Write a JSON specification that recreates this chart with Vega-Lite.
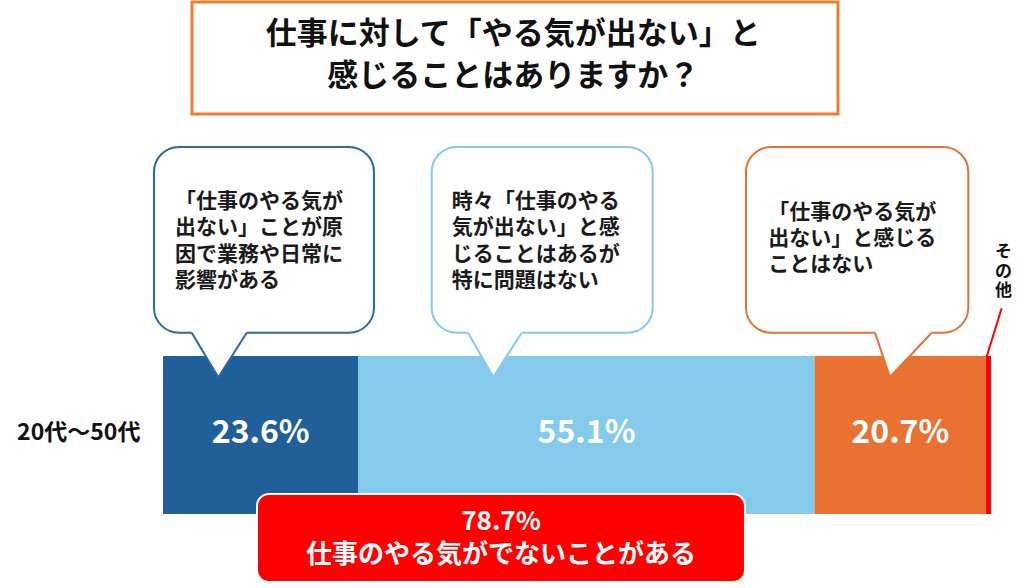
{
  "$schema": "https://vega.github.io/schema/vega-lite/v6.json",
  "description": "仕事に対して「やる気が出ない」と感じることはありますか？ (20代～50代)",
  "width": 1024,
  "height": 588,
  "autosize": {"type": "fit", "contains": "padding"},
  "padding": 0,
  "background": "white",
  "config": {"view": {"stroke": null}, "text": {"font": "Noto Sans CJK JP"}},
  "datasets": {
    "bar": [
      {"cat": "影響がある", "pct": 23.6, "label": "23.6%", "i": 1},
      {"cat": "特に問題はない", "pct": 55.1, "label": "55.1%", "i": 2},
      {"cat": "感じることはない", "pct": 20.7, "label": "20.7%", "i": 3},
      {"cat": "その他", "pct": 0.6, "label": "", "i": 4}
    ],
    "titlebox": [{"x1": 3.5, "x2": 81.52, "y1": 99.66, "y2": 80.61}],
    "title": [
      {"t": "仕事に対して「やる気が出ない」と", "x": 42.3, "y": 94.05},
      {"t": "感じることはありますか？", "x": 42.3, "y": 86.82}
    ],
    "bubbles": [
      {"b": "b1", "x1": -1.09, "x2": 25.48, "y1": 75.0, "y2": 43.42},
      {"b": "b2", "x1": 32.45, "x2": 59.14, "y1": 75.0, "y2": 43.42},
      {"b": "b3", "x1": 70.41, "x2": 97.26, "y1": 75.0, "y2": 43.42}
    ],
    "tails": [
      {"b": "b1", "x": 3.47, "y": 43.42, "ya": 43.2, "yb": 43.9},
      {"b": "b1", "x": 6.68, "y": 35.83, "ya": 35.83, "yb": 43.9},
      {"b": "b1", "x": 10.11, "y": 43.42, "ya": 43.2, "yb": 43.9},
      {"b": "b2", "x": 36.84, "y": 43.42, "ya": 43.2, "yb": 43.9},
      {"b": "b2", "x": 39.89, "y": 35.88, "ya": 35.88, "yb": 43.9},
      {"b": "b2", "x": 43.32, "y": 43.42, "ya": 43.2, "yb": 43.9},
      {"b": "b3", "x": 85.99, "y": 43.42, "ya": 43.2, "yb": 43.9},
      {"b": "b3", "x": 87.8, "y": 35.88, "ya": 35.88, "yb": 43.9},
      {"b": "b3", "x": 92.84, "y": 43.42, "ya": 43.2, "yb": 43.9}
    ],
    "btext": [
      {"t": "「仕事のやる気が", "x": 1.45, "y": 65.65},
      {"t": "出ない」ことが原", "x": 1.45, "y": 61.17},
      {"t": "因で業務や日常に", "x": 1.45, "y": 56.7},
      {"t": "影響がある", "x": 1.45, "y": 52.23},
      {"t": "時々「仕事のやる", "x": 34.87, "y": 65.65},
      {"t": "気が出ない」と感", "x": 34.87, "y": 61.17},
      {"t": "じることはあるが", "x": 34.87, "y": 56.7},
      {"t": "特に問題はない", "x": 34.87, "y": 52.23},
      {"t": "「仕事のやる気が", "x": 73.1, "y": 63.86},
      {"t": "出ない」と感じる", "x": 73.1, "y": 59.35},
      {"t": "ことはない", "x": 73.1, "y": 54.93}
    ],
    "redbox": [{"x1": 11.35, "x2": 70.29, "y1": 15.99, "y2": 1.02}],
    "redtext": [
      {"t": "78.7%", "x": 40.82, "y": 11.22},
      {"t": "仕事のやる気がでないことがある", "x": 40.82, "y": 5.61}
    ],
    "ylabel": [{"t": "20代～50代", "x": -10.18, "y": 26.3}],
    "other": [
      {"t": "そ", "x": 101.5, "y": 57.1},
      {"t": "の", "x": 101.5, "y": 53.8},
      {"t": "他", "x": 101.5, "y": 50.5}
    ],
    "leader": [{"x": 101.29, "y": 47.57, "x2": 99.48, "y2": 39.34}]
  },
  "layer": [
    {
      "data": {"name": "titlebox"},
      "mark": {"type": "rect", "fill": "white", "stroke": "#ED7D31", "strokeWidth": 3},
      "encoding": {
        "x": {"field": "x1", "type": "quantitative", "scale": {"domain": [-19.69, 103.99], "nice": false, "zero": false}, "axis": null},
        "x2": {"field": "x2"},
        "y": {"field": "y1", "type": "quantitative", "scale": {"domain": [0, 100], "nice": false, "zero": false}, "axis": null},
        "y2": {"field": "y2"}
      }
    },
    {
      "data": {"name": "title"},
      "mark": {"type": "text", "fontSize": 31, "fontWeight": "bold", "color": "#111111", "align": "center", "baseline": "middle"},
      "encoding": {
        "x": {"field": "x", "type": "quantitative", "scale": {"domain": [-19.69, 103.99], "nice": false, "zero": false}, "axis": null},
        "y": {"field": "y", "type": "quantitative", "scale": {"domain": [0, 100], "nice": false, "zero": false}, "axis": null},
        "text": {"field": "t"}
      }
    },
    {
      "data": {"name": "bar"},
      "transform": [
        {"stack": "pct", "groupby": [], "sort": [{"field": "i"}], "as": ["s", "e"]}
      ],
      "mark": {"type": "rect"},
      "encoding": {
        "x": {"field": "s", "type": "quantitative", "scale": {"domain": [-19.69, 103.99], "nice": false, "zero": false}, "axis": null},
        "x2": {"field": "e"},
        "y": {"datum": 39.46, "type": "quantitative", "scale": {"domain": [0, 100], "nice": false, "zero": false}, "axis": null},
        "y2": {"datum": 12.59},
        "color": {
          "field": "cat",
          "type": "nominal",
          "scale": {
            "domain": ["影響がある", "特に問題はない", "感じることはない", "その他"],
            "range": ["#215F9A", "#83CAEB", "#E97132", "#FF0000"]
          },
          "legend": null
        }
      }
    },
    {
      "data": {"name": "bar"},
      "transform": [
        {"stack": "pct", "groupby": [], "sort": [{"field": "i"}], "as": ["s", "e"]},
        {"fold": ["s", "e"], "as": ["k", "v"]},
        {"aggregate": [{"op": "mean", "field": "v", "as": "mid"}], "groupby": ["label"]},
        {"filter": "datum.label != ''"}
      ],
      "mark": {"type": "text", "fontSize": 32, "fontWeight": "bold", "color": "white", "align": "center", "baseline": "middle"},
      "encoding": {
        "x": {"field": "mid", "type": "quantitative", "scale": {"domain": [-19.69, 103.99], "nice": false, "zero": false}, "axis": null},
        "y": {"datum": 26.3, "type": "quantitative", "scale": {"domain": [0, 100], "nice": false, "zero": false}, "axis": null},
        "text": {"field": "label"}
      }
    },
    {
      "data": {"name": "bubbles"},
      "mark": {"type": "rect", "fill": "white", "strokeWidth": 2, "cornerRadius": 25},
      "encoding": {
        "x": {"field": "x1", "type": "quantitative", "scale": {"domain": [-19.69, 103.99], "nice": false, "zero": false}, "axis": null},
        "x2": {"field": "x2"},
        "y": {"field": "y1", "type": "quantitative", "scale": {"domain": [0, 100], "nice": false, "zero": false}, "axis": null},
        "y2": {"field": "y2"},
        "stroke": {"field": "b", "type": "nominal", "scale": {"domain": ["b1", "b2", "b3"], "range": ["#2E67A5", "#83CAEB", "#E97132"]}, "legend": null}
      }
    },
    {
      "data": {"name": "tails"},
      "mark": {"type": "area", "color": "white", "opacity": 1},
      "encoding": {
        "x": {"field": "x", "type": "quantitative", "scale": {"domain": [-19.69, 103.99], "nice": false, "zero": false}, "axis": null},
        "y": {"field": "ya", "type": "quantitative", "scale": {"domain": [0, 100], "nice": false, "zero": false}, "axis": null},
        "y2": {"field": "yb"},
        "detail": {"field": "b"}
      }
    },
    {
      "data": {"name": "tails"},
      "mark": {"type": "line", "strokeWidth": 2},
      "encoding": {
        "x": {"field": "x", "type": "quantitative", "scale": {"domain": [-19.69, 103.99], "nice": false, "zero": false}, "axis": null},
        "y": {"field": "y", "type": "quantitative", "scale": {"domain": [0, 100], "nice": false, "zero": false}, "axis": null},
        "stroke": {"field": "b", "type": "nominal", "scale": {"domain": ["b1", "b2", "b3"], "range": ["#2E67A5", "#83CAEB", "#E97132"]}, "legend": null}
      }
    },
    {
      "data": {"name": "btext"},
      "mark": {"type": "text", "fontSize": 21, "fontWeight": "bold", "color": "#1A1A1A", "align": "left", "baseline": "middle"},
      "encoding": {
        "x": {"field": "x", "type": "quantitative", "scale": {"domain": [-19.69, 103.99], "nice": false, "zero": false}, "axis": null},
        "y": {"field": "y", "type": "quantitative", "scale": {"domain": [0, 100], "nice": false, "zero": false}, "axis": null},
        "text": {"field": "t"}
      }
    },
    {
      "data": {"name": "redbox"},
      "mark": {"type": "rect", "fill": "#FF0000", "stroke": "white", "strokeWidth": 2, "cornerRadius": 12},
      "encoding": {
        "x": {"field": "x1", "type": "quantitative", "scale": {"domain": [-19.69, 103.99], "nice": false, "zero": false}, "axis": null},
        "x2": {"field": "x2"},
        "y": {"field": "y1", "type": "quantitative", "scale": {"domain": [0, 100], "nice": false, "zero": false}, "axis": null},
        "y2": {"field": "y2"}
      }
    },
    {
      "data": {"name": "redtext"},
      "mark": {"type": "text", "fontSize": 26, "fontWeight": "bold", "color": "white", "align": "center", "baseline": "middle"},
      "encoding": {
        "x": {"field": "x", "type": "quantitative", "scale": {"domain": [-19.69, 103.99], "nice": false, "zero": false}, "axis": null},
        "y": {"field": "y", "type": "quantitative", "scale": {"domain": [0, 100], "nice": false, "zero": false}, "axis": null},
        "text": {"field": "t"}
      }
    },
    {
      "data": {"name": "ylabel"},
      "mark": {"type": "text", "fontSize": 23, "fontWeight": "bold", "color": "#111111", "align": "center", "baseline": "middle"},
      "encoding": {
        "x": {"field": "x", "type": "quantitative", "scale": {"domain": [-19.69, 103.99], "nice": false, "zero": false}, "axis": null},
        "y": {"field": "y", "type": "quantitative", "scale": {"domain": [0, 100], "nice": false, "zero": false}, "axis": null},
        "text": {"field": "t"}
      }
    },
    {
      "data": {"name": "other"},
      "mark": {"type": "text", "fontSize": 17, "fontWeight": "bold", "color": "#111111", "align": "center", "baseline": "middle"},
      "encoding": {
        "x": {"field": "x", "type": "quantitative", "scale": {"domain": [-19.69, 103.99], "nice": false, "zero": false}, "axis": null},
        "y": {"field": "y", "type": "quantitative", "scale": {"domain": [0, 100], "nice": false, "zero": false}, "axis": null},
        "text": {"field": "t"}
      }
    },
    {
      "data": {"name": "leader"},
      "mark": {"type": "rule", "color": "#FF0000", "strokeWidth": 2},
      "encoding": {
        "x": {"field": "x", "type": "quantitative", "scale": {"domain": [-19.69, 103.99], "nice": false, "zero": false}, "axis": null},
        "x2": {"field": "x2"},
        "y": {"field": "y", "type": "quantitative", "scale": {"domain": [0, 100], "nice": false, "zero": false}, "axis": null},
        "y2": {"field": "y2"}
      }
    }
  ]
}
